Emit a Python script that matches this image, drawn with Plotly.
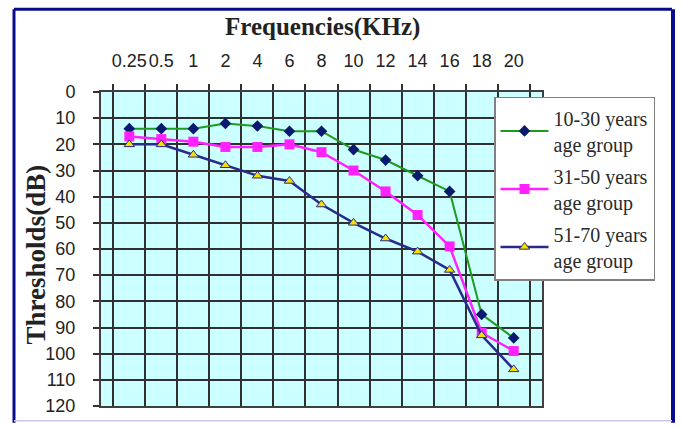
import plotly.graph_objects as go

# ---- data ----
frequencies = ["0.25", "0.5", "1", "2", "4", "6", "8", "10", "12", "14", "16", "18", "20"]
group_10_30 = [14, 14, 14, 12, 13, 15, 15, 22, 26, 32, 38, 85, 94]
group_31_50 = [17, 18, 19, 21, 21, 20, 23, 30, 38, 47, 59, 92, 99]
group_51_70 = [20, 20, 24, 28, 32, 34, 43, 50, 56, 61, 68, 93, 106]
series_names = ["10-30 years<br>age group", "31-50 years<br>age group", "51-70 years<br>age group"]
y_ticks = list(range(0, 121, 10))
x_title = "Frequencies(KHz)"
y_title = "Thresholds(dB)"

# ---- geometry ----
W, H = 682, 428
ML, MR, MT, MB = 101, 140, 92, 17
PW, PH = W - ML - MR, H - MT - MB


def px_x(px):
    return (px - ML) / PW


def px_y(py):
    return (H - MB - py) / PH


fig = go.Figure()
fig.add_trace(go.Scatter(
    x=frequencies, y=group_10_30, name=series_names[0], mode="lines+markers", legendgroup="a",
    line=dict(color="#1e9a1e", width=2),
    marker=dict(symbol="diamond", size=9, color="#0a1a6e"),
))
fig.add_trace(go.Scatter(
    x=frequencies, y=group_31_50, name=series_names[1], mode="lines+markers", legendgroup="b",
    line=dict(color="#ff22ff", width=2.5),
    marker=dict(symbol="square", size=10, color="#ff22ff"),
))
fig.add_trace(go.Scatter(
    x=frequencies, y=group_51_70, name=series_names[2], mode="lines+markers", legendgroup="c",
    line=dict(color="#2a2a8c", width=2.5),
    marker=dict(symbol="triangle-up", size=9, color="#f2e000",
                line=dict(color="#2a2a8c", width=1)),
))

axis_common = dict(
    showline=True, linecolor="#404040", linewidth=2, mirror=True,
    showgrid=True, gridcolor="#303030", gridwidth=2,
    ticks="outside", ticklen=6, tickcolor="#303030", tickwidth=1.5,
    zeroline=False,
)

fig.update_layout(
    width=W, height=H,
    margin=dict(l=ML, r=MR, t=MT, b=MB),
    paper_bgcolor="white",
    plot_bgcolor="#ccffff",
    showlegend=True,
    xaxis=dict(
        **axis_common,
        type="category", side="top", tickson="boundaries", tickangle=0,
        tickfont=dict(family="Liberation Sans, Arial", size=18, color="#222"),
        ticklabelstandoff=16,
    ),
    yaxis=dict(
        **axis_common,
        range=[120, 0], tickvals=y_ticks, ticktext=[str(v) for v in y_ticks],
        tickfont=dict(family="Liberation Sans, Arial", size=18, color="#222"),
        ticklabelstandoff=14,
    ),
    legend=dict(
        x=px_x(494), y=px_y(97), xanchor="left", yanchor="top",
        bgcolor="white", bordercolor="#808080", borderwidth=1.5,
        font=dict(family="Liberation Serif, Times New Roman", size=20, color="#2a2a2a"),
        itemwidth=48, tracegroupgap=3, traceorder="grouped",
    ),
    annotations=[
        dict(text="<b>" + x_title + "</b>", xref="paper", yref="paper",
             x=px_x(322), y=px_y(26), xanchor="center", yanchor="middle", showarrow=False,
             font=dict(family="Liberation Serif, Times New Roman", size=25, color="#222")),
        dict(text="<b>" + y_title + "</b>", xref="paper", yref="paper", textangle=-90,
             x=px_x(36), y=px_y(257), xanchor="center", yanchor="middle", showarrow=False,
             font=dict(family="Liberation Serif, Times New Roman", size=27, color="#222")),
    ],
    shapes=[
        dict(type="line", xref="paper", yref="paper", x0=px_x(14), x1=px_x(672), y0=px_y(8), y1=px_y(8),
             line=dict(color="#0a0a8c", width=3)),
        dict(type="line", xref="paper", yref="paper", x0=px_x(14), x1=px_x(14), y0=px_y(8), y1=px_y(428),
             line=dict(color="#0a0a8c", width=3)),
        dict(type="line", xref="paper", yref="paper", x0=px_x(673), x1=px_x(673), y0=px_y(8), y1=px_y(428),
             line=dict(color="#0a0a8c", width=4)),
        dict(type="line", xref="paper", yref="paper", x0=px_x(14), x1=px_x(672), y0=px_y(426), y1=px_y(426),
             line=dict(color="#c8c8f0", width=1.5)),
    ],
)

fig.write_html("out.html")
